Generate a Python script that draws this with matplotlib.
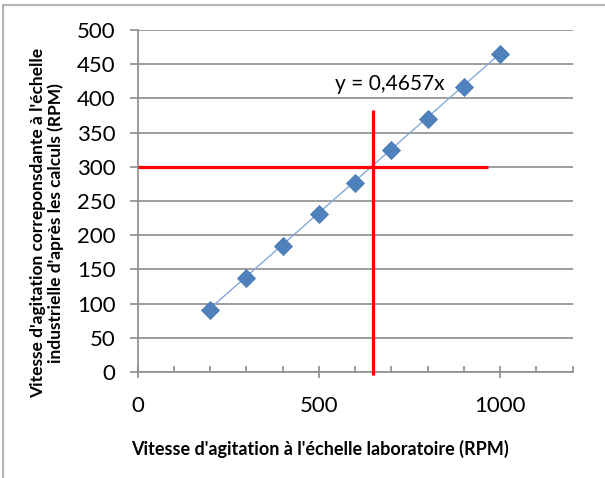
import matplotlib
matplotlib.use("Agg")
import matplotlib.pyplot as plt
from matplotlib.lines import Line2D
from matplotlib.ticker import MultipleLocator
import numpy as np

plt.rcParams['font.family'] = ['Lato', 'DejaVu Sans']

# Data
lab_rpm = [200, 300, 400, 500, 600, 700, 800, 900, 1000]
ind_rpm = [91, 137, 184, 231, 277, 324, 370, 417, 465]
slope = 0.4657
eq_label = "y = 0,4657x"
xlabel = "Vitesse d'agitation à l'échelle laboratoire (RPM)"
ylabel = "Vitesse d'agitation correponsdante à l'échelle\nindustrielle d'après les calculs (RPM)"
ref_x = 650          # vertical red line
ref_y = 300          # horizontal red line
ref_x_top = 383
ref_y_right = 965

W, H = 605, 478
fig = plt.figure(figsize=(W / 100, H / 100), dpi=100)
ax = fig.add_axes([137.7 / W, 1 - 372 / H, 435 / W, 342 / H])

ax.set_xlim(0, 1200)
ax.set_ylim(0, 500)

grid_c = '#8c8c8c'
ax.yaxis.set_major_locator(MultipleLocator(50))
ax.xaxis.set_major_locator(MultipleLocator(500))
ax.grid(axis='y', color=grid_c, lw=1.2, zorder=0)
for s in ['top', 'right']:
    ax.spines[s].set_visible(False)
for s in ['left', 'bottom']:
    ax.spines[s].set_color(grid_c)
    ax.spines[s].set_linewidth(1.2)

ax.tick_params(axis='y', which='major', direction='out', length=6, width=1.2,
               color=grid_c, labelsize=16, pad=10)
ax.tick_params(axis='x', which='major', direction='inout', length=8, width=1.2,
               color=grid_c, labelsize=16, pad=13)
ax.tick_params(axis='x', which='minor', direction='in', length=4, width=1.2,
               color=grid_c)
ax.set_xticks([100, 200, 300, 400, 600, 700, 800, 900, 1100, 1200], minor=True)

# trendline
xt = np.array([min(lab_rpm), max(lab_rpm)])
ax.plot(xt, slope * xt, color='#86a9d9', lw=1.0, zorder=3)
# data
ax.plot(lab_rpm, ind_rpm, linestyle='none', marker='D', markersize=9,
        color='#4f81bd', markeredgecolor='#4a7ab5', markeredgewidth=0.6, zorder=4)

# red reference lines
ax.plot([ref_x, ref_x], [-4, ref_x_top], color='#ff0000', lw=2.3, zorder=5,
        clip_on=False, solid_capstyle='butt')
ax.plot([0, ref_y_right], [ref_y, ref_y], color='#ff0000', lw=2.3, zorder=5,
        solid_capstyle='butt')

ax.text(543, 421, eq_label, fontsize=15, va='center', ha='left')

fig.text(320 / W, 1 - 449 / H, xlabel, fontsize=13, fontweight='bold',
         ha='center', va='center')
fig.text(47 / W, 1 - 223 / H, ylabel, fontsize=12.5, fontweight='bold',
         ha='center', va='center', rotation=90, multialignment='center',
         linespacing=1.15)

# chart border (top and left)
bc = '#b4b4b4'
fig.add_artist(Line2D([3 / W, 1], [1 - 5 / H, 1 - 5 / H], color=bc, lw=1.5,
                      transform=fig.transFigure))
fig.add_artist(Line2D([3 / W, 3 / W], [0, 1 - 5 / H], color=bc, lw=1.5,
                      transform=fig.transFigure))

fig.savefig('out.png', dpi=100)
